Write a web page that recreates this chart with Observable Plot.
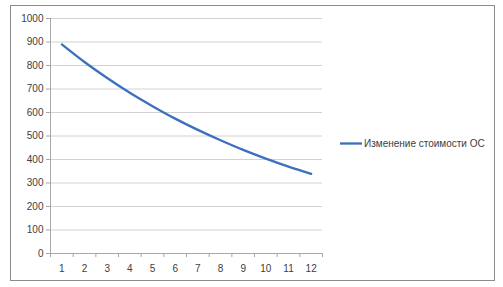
<!DOCTYPE html>
<html><head><meta charset="utf-8">
<script src="https://cdn.jsdelivr.net/npm/d3@7"></script>
<script src="https://cdn.jsdelivr.net/npm/@observablehq/plot@0.6"></script>
<style>
body{margin:0;background:#fff;}
#chart{position:relative;width:503px;height:287px;}
</style>
</head><body><div id="chart"></div>
<script>
const periods = [1,2,3,4,5,6,7,8,9,10,11,12];
const values = [890,815,747,684,627,574,526,482,441,404,370,339];
const yTicks = [0,100,200,300,400,500,600,700,800,900,1000];
const seriesName = "Изменение стоимости ОС";

const data = periods.map((p,i)=>({p, v: values[i]}));
const bounds = d3.range(0.5, 13, 1);
const font = "Liberation Sans, Arial, sans-serif";
const axisGray = "#a8a8a8";
const textGray = "#404040";

const plot = Plot.plot({
  width: 503, height: 287,
  marginLeft: 50, marginRight: 181, marginTop: 18, marginBottom: 34,
  style: {fontFamily: font, fontSize: "10px", color: textGray, background: "transparent"},
  x: {domain: [0.5, 12.5], axis: null},
  y: {domain: [0, 1000], axis: null},
  marks: [
    Plot.ruleY(yTicks.slice(1), {y: d=>d, x1: 0.5, x2: 12.5, stroke: "#d2d2d2", strokeWidth: 1}),
    Plot.ruleX([0.5], {y1: 0, y2: 1000, stroke: axisGray}),
    Plot.ruleY([0], {x1: 0.5, x2: 12.5, stroke: axisGray}),
    Plot.ruleY(yTicks, {y: d=>d, x1: 0.5, x2: 0.5, insetLeft: -4, stroke: axisGray}),
    Plot.ruleX(bounds, {x: d=>d, y1: 0, y2: 0, insetBottom: -4, stroke: axisGray}),
    Plot.text(yTicks, {x: 0.5, y: d=>d, text: d=>String(d), textAnchor: "end", dx: -7, fill: textGray, fontSize: 10}),
    Plot.text(periods, {x: d=>d, y: 0, text: d=>String(d), dy: 15, fill: textGray, fontSize: 10}),
    Plot.line(data, {x: "p", y: "v", stroke: "#3c6fbe", strokeWidth: 2.3, curve: "catmull-rom"})
  ]
});
document.getElementById("chart").appendChild(plot);

const svg = d3.select(plot);
svg.insert("rect", ":first-child")
  .attr("x", 10.5).attr("y", 5.5).attr("width", 484).attr("height", 275)
  .attr("fill", "white").attr("stroke", "#8c8c8c");
const lg = svg.append("g");
lg.append("line").attr("x1", 340).attr("x2", 362).attr("y1", 143.5).attr("y2", 143.5)
  .attr("stroke", "#3c6fbe").attr("stroke-width", 2.3);
lg.append("text").attr("x", 364).attr("y", 147).attr("text-anchor", "start")
  .attr("font-family", font).attr("font-size", 10).attr("fill", textGray).text(seriesName);
</script></body></html>
